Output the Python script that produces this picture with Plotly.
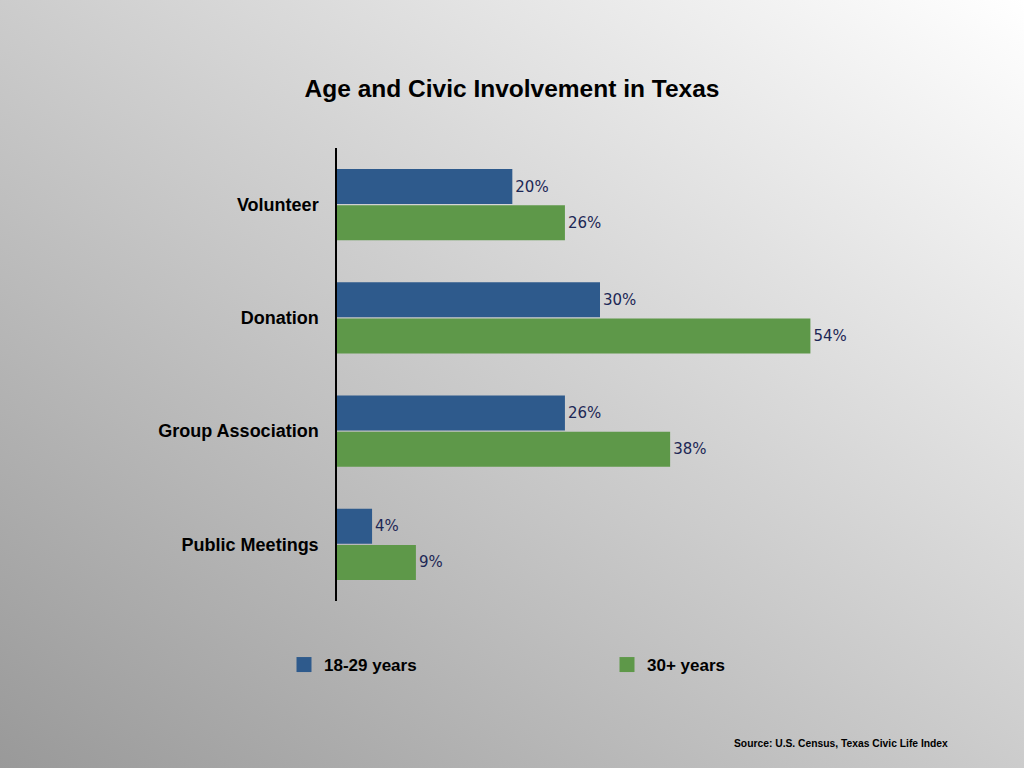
import base64
import plotly.graph_objects as go

categories = ["Volunteer", "Donation", "Group Association", "Public Meetings"]
young = [20, 30, 26, 4]
older = [26, 54, 38, 9]
series_names = ["18-29 years", "30+ years"]
series_colors = ["#2e5a8c", "#5e9849"]
title_text = "Age and Civic Involvement in Texas"
source_text = "Source: U.S. Census, Texas Civic Life Index"

W, H = 1024, 768
ML, MR, MT, MB = 337, 161, 148, 167
PW, PH = W - ML - MR, H - MT - MB

svg = (
    '<svg xmlns="http://www.w3.org/2000/svg" width="1024" height="768" preserveAspectRatio="none">'
    '<defs><linearGradient id="g" x1="0" y1="1" x2="1" y2="0">'
    '<stop offset="0" stop-color="#999999"/><stop offset="1" stop-color="#ffffff"/>'
    '</linearGradient></defs><rect width="1024" height="768" fill="url(#g)"/></svg>'
)
bg_src = "data:image/svg+xml;base64," + base64.b64encode(svg.encode()).decode()

label_font = dict(family="DejaVu Sans, Verdana, sans-serif", size=15, color="#1c2755")

fig = go.Figure()
for vals, nm, col in zip([young, older], series_names, series_colors):
    fig.add_trace(go.Bar(
        y=categories, x=vals, name=nm, orientation="h",
        marker=dict(color=col, line=dict(width=0)),
        text=[f"{v}%" for v in vals], textposition="outside", textfont=label_font,
        cliponaxis=False, showlegend=False, legendgroup=nm, hoverinfo="skip",
    ))
for nm, col in zip(series_names, series_colors):
    fig.add_trace(go.Scatter(
        x=[None], y=[None], mode="markers", name=f"<b>{nm}</b>", legendgroup=nm,
        marker=dict(symbol="square", size=15, color=col, line=dict(width=0)),
        showlegend=True, hoverinfo="skip",
    ))

fig.update_layout(
    width=W, height=H,
    margin=dict(l=ML, r=MR, t=MT, b=MB),
    paper_bgcolor="rgba(0,0,0,0)", plot_bgcolor="rgba(0,0,0,0)",
    barmode="group", bargap=0.36, bargroupgap=0.03,
    font=dict(family="Liberation Sans, Arial, sans-serif", color="#000000"),
    title=dict(text=f"<b>{title_text}</b>", x=0.5, xref="container", xanchor="center",
               y=1 - 88 / H, yref="container", yanchor="middle",
               font=dict(size=24.5, color="#000000")),
    xaxis=dict(range=[0, 60], visible=False, showgrid=False, zeroline=False),
    yaxis=dict(autorange="reversed", showline=True, linecolor="#000000", linewidth=1.5,
               showgrid=False, zeroline=False, ticks="", ticklabelstandoff=13,
               tickfont=dict(size=18, color="#000000", family="Liberation Sans, Arial, sans-serif"),
               tickprefix="<b>", ticksuffix="</b>"),
    legend=dict(orientation="h", x=(284 - ML) / PW, xanchor="left",
                y=(H - MB - 665) / PH, yanchor="middle",
                entrywidth=278, entrywidthmode="pixels",
                font=dict(size=17, color="#000000"), bgcolor="rgba(0,0,0,0)",
                traceorder="normal"),
    images=[dict(source=bg_src, xref="paper", yref="paper",
                 x=-ML / PW, y=1 + MT / PH, sizex=W / PW, sizey=H / PH,
                 xanchor="left", yanchor="top", sizing="stretch", layer="below")],
    annotations=[dict(text=f"<b>{source_text}</b>", xref="paper", yref="paper",
                      x=(950 - ML) / PW, xanchor="right", y=(H - MB - 743) / PH, yanchor="middle",
                      showarrow=False, font=dict(size=10.3, color="#000000"))],
    showlegend=True,
    hovermode=False,
)

fig.write_html("out.html", config={"displayModeBar": False},
               post_script="document.body.style.margin='0';document.body.style.overflow='hidden';window.dispatchEvent(new Event('resize'));")
